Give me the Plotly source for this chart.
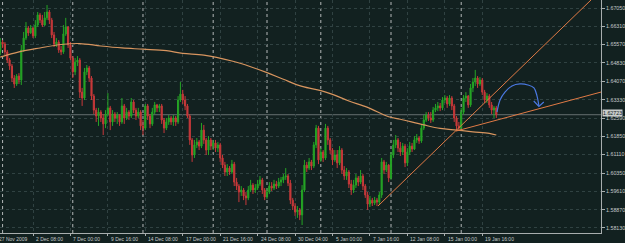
import plotly.graph_objects as go

# ---------------- data (H4 bars) ----------------
OPEN0 = 1.6527
CLOSES = [1.6567,1.6559,1.6527,1.6494,1.6470,1.6421,1.6397,1.6429,1.6413,1.6535,
1.6583,1.6624,1.6604,1.6624,1.6592,1.6636,1.6677,1.6656,1.6636,1.6665,
1.6689,1.6656,1.6596,1.6559,1.6567,1.6535,1.6527,1.6600,1.6628,1.6555,
1.6502,1.6446,1.6486,1.6494,1.6364,1.6340,1.6446,1.6462,1.6421,1.6348,
1.6291,1.6267,1.6283,1.6259,1.6235,1.6275,1.6300,1.6243,1.6275,1.6259,
1.6271,1.6243,1.6308,1.6259,1.6283,1.6267,1.6324,1.6291,1.6267,1.6283,
1.6227,1.6218,1.6308,1.6267,1.6235,1.6283,1.6312,1.6300,1.6308,1.6251,
1.6218,1.6243,1.6259,1.6243,1.6259,1.6243,1.6332,1.6356,1.6332,1.6308,
1.6267,1.6170,1.6109,1.6150,1.6162,1.6145,1.6210,1.6170,1.6129,1.6170,
1.6145,1.6158,1.6137,1.6150,1.6097,1.6068,1.6040,1.6056,1.6040,1.6072,
1.5999,1.5983,1.5959,1.5967,1.5943,1.5935,1.5967,1.5987,1.5967,1.5975,
1.5991,1.6008,1.5967,1.5939,1.5959,1.5983,1.5975,1.5991,1.5983,1.5999,
1.6008,1.6020,1.6024,1.5995,1.5926,1.5902,1.5878,1.5886,1.5866,1.5967,
1.6068,1.6056,1.6081,1.6064,1.6150,1.6218,1.6089,1.6121,1.6097,1.6218,
1.6170,1.6129,1.6089,1.6109,1.6077,1.6129,1.6048,1.6024,1.6040,1.5991,
1.5967,1.5987,1.6016,1.5999,1.6024,1.5983,1.5947,1.5910,1.5926,1.5914,
1.5926,1.5918,1.5947,1.6081,1.6048,1.6068,1.6016,1.6109,1.6150,1.6170,
1.6137,1.6121,1.6145,1.6077,1.6121,1.6145,1.6133,1.6170,1.6178,1.6166,
1.6218,1.6251,1.6271,1.6259,1.6251,1.6291,1.6300,1.6308,1.6300,1.6332,
1.6340,1.6316,1.6340,1.6308,1.6259,1.6227,1.6218,1.6283,1.6340,1.6348,
1.6312,1.6381,1.6405,1.6421,1.6397,1.6413,1.6364,1.6332,1.6348,1.6312,
1.6291,1.6300,1.62723]
HIGHS = [1.6583,1.6575,1.6567,1.6535,1.6502,1.6478,1.6433,1.6437,1.6441,1.6555,
1.6608,1.6648,1.6632,1.6636,1.6628,1.6656,1.6689,1.6685,1.6677,1.6689,
1.6717,1.6697,1.6665,1.6608,1.6583,1.6575,1.6551,1.6636,1.6665,1.6632,
1.6567,1.6510,1.6502,1.6510,1.6502,1.6381,1.6462,1.6474,1.6470,1.6429,
1.6356,1.6300,1.6300,1.6291,1.6275,1.6291,1.6360,1.6308,1.6291,1.6283,
1.6283,1.6275,1.6340,1.6316,1.6300,1.6291,1.6340,1.6332,1.6300,1.6300,
1.6291,1.6251,1.6316,1.6316,1.6275,1.6300,1.6324,1.6316,1.6316,1.6316,
1.6259,1.6259,1.6271,1.6267,1.6271,1.6267,1.6348,1.6405,1.6373,1.6348,
1.6316,1.6275,1.6178,1.6170,1.6178,1.6170,1.6239,1.6231,1.6178,1.6186,
1.6178,1.6170,1.6170,1.6162,1.6158,1.6109,1.6081,1.6072,1.6064,1.6089,
1.6081,1.6016,1.5991,1.5983,1.5975,1.5959,1.5983,1.6008,1.5995,1.5991,
1.6008,1.6024,1.6016,1.5975,1.5975,1.5999,1.5999,1.6008,1.6004,1.6016,
1.6020,1.6032,1.6056,1.6032,1.6008,1.5935,1.5914,1.5902,1.5894,1.5987,
1.6089,1.6081,1.6097,1.6089,1.6162,1.6231,1.6227,1.6137,1.6129,1.6235,
1.6227,1.6178,1.6137,1.6129,1.6129,1.6145,1.6137,1.6064,1.6056,1.6048,
1.6008,1.6008,1.6032,1.6024,1.6048,1.6032,1.5991,1.5959,1.5943,1.5935,
1.5939,1.5935,1.5959,1.6097,1.6089,1.6081,1.6072,1.6121,1.6170,1.6190,
1.6178,1.6162,1.6158,1.6154,1.6137,1.6162,1.6158,1.6186,1.6194,1.6186,
1.6235,1.6271,1.6283,1.6283,1.6283,1.6304,1.6316,1.6324,1.6320,1.6344,
1.6352,1.6348,1.6352,1.6348,1.6316,1.6267,1.6243,1.6300,1.6352,1.6364,
1.6352,1.6397,1.6421,1.6454,1.6429,1.6425,1.6421,1.6373,1.6360,1.6356,
1.6324,1.6308,1.6308]
LOWS = [1.6514,1.6543,1.6514,1.6482,1.6454,1.6405,1.6381,1.6389,1.6397,1.6393,
1.6527,1.6575,1.6592,1.6600,1.6583,1.6583,1.6628,1.6644,1.6628,1.6632,
1.6656,1.6640,1.6583,1.6547,1.6547,1.6523,1.6514,1.6519,1.6592,1.6543,
1.6494,1.6421,1.6433,1.6470,1.6340,1.6308,1.6332,1.6433,1.6405,1.6332,
1.6275,1.6243,1.6227,1.6243,1.6190,1.6218,1.6267,1.6210,1.6227,1.6243,
1.6235,1.6227,1.6235,1.6235,1.6251,1.6251,1.6259,1.6279,1.6251,1.6259,
1.6210,1.6190,1.6210,1.6251,1.6218,1.6227,1.6275,1.6283,1.6283,1.6235,
1.6198,1.6210,1.6231,1.6231,1.6227,1.6227,1.6235,1.6324,1.6316,1.6291,
1.6259,1.6150,1.6081,1.6097,1.6137,1.6129,1.6137,1.6154,1.6109,1.6109,
1.6129,1.6129,1.6121,1.6121,1.6081,1.6056,1.6024,1.6024,1.6028,1.6032,
1.5983,1.5967,1.5918,1.5943,1.5926,1.5906,1.5926,1.5959,1.5951,1.5955,
1.5967,1.5983,1.5951,1.5926,1.5931,1.5951,1.5963,1.5967,1.5971,1.5975,
1.5983,1.5995,1.6008,1.5983,1.5910,1.5886,1.5862,1.5854,1.5845,1.5825,
1.5959,1.6040,1.6048,1.6048,1.6056,1.6137,1.6072,1.6081,1.6081,1.6089,
1.6150,1.6113,1.6068,1.6081,1.6056,1.6068,1.6032,1.6008,1.6008,1.5975,
1.5947,1.5955,1.5975,1.5983,1.5991,1.5967,1.5935,1.5886,1.5898,1.5902,
1.5906,1.5902,1.5906,1.5935,1.6032,1.6040,1.5999,1.6008,1.6097,1.6137,
1.6121,1.6105,1.6109,1.6060,1.6064,1.6109,1.6121,1.6129,1.6158,1.6154,
1.6158,1.6210,1.6243,1.6247,1.6239,1.6243,1.6283,1.6287,1.6287,1.6291,
1.6320,1.6300,1.6308,1.6291,1.6243,1.6210,1.6206,1.6210,1.6275,1.6324,
1.6300,1.6304,1.6364,1.6389,1.6381,1.6389,1.6352,1.6320,1.6320,1.6300,
1.6275,1.6259,1.6259]
BARS = list(range(1, len(CLOSES) + 1))
OPENS = [OPEN0] + CLOSES[:-1]

# long moving average (sampled along its path)
MA_BARS = [1, 9, 18, 27, 35, 44, 53, 62, 72, 79, 88, 100, 108, 115, 122, 130,
           138, 143, 150, 158, 167, 172, 182, 189, 196, 203, 210, 213]
MA_VALS = [1.6506, 1.6527, 1.6543, 1.6557, 1.6561, 1.6551, 1.6543, 1.6538, 1.6532,
           1.6521, 1.6514, 1.6490, 1.6467, 1.6443, 1.6416, 1.6387, 1.6370, 1.6355,
           1.6328, 1.6302, 1.6264, 1.6254, 1.6231, 1.6217, 1.6210, 1.6203, 1.6197, 1.6190]

# trend lines drawn on the chart (start, far point)
TREND1_BARS = [162.4, 253.5]
TREND1_VALS = [1.5902, 1.6738]
TREND2_BARS = [195.8, 260.0]
TREND2_VALS = [1.6206, 1.6370]

# hand-drawn blue arrow
ARROW_BARS = [213.3, 214.6, 216.7, 219.7, 223.1, 226.5, 229.1, 230.4, 231.2]
ARROW_VALS = [1.6283, 1.6332, 1.6364, 1.6389, 1.6397, 1.6393, 1.6381, 1.6348, 1.6308]
HEAD_BARS = [229.0, 231.2, 233.3]
HEAD_VALS = [1.6328, 1.6306, 1.6324]

BID = 1.62723

TICK_BARS = [-1, 15, 31, 47, 63, 79, 95, 111, 127, 143, 159, 175, 191, 207]
TICK_LABELS = ["27 Nov 2009", "2 Dec 08:00", "7 Dec 00:00", "9 Dec 16:00", "14 Dec 08:00",
               "17 Dec 00:00", "21 Dec 16:00", "24 Dec 08:00", "30 Dec 04:00", "5 Jan 00:00",
               "7 Jan 16:00", "12 Jan 08:00", "15 Jan 00:00", "19 Jan 16:00"]
SEP_BARS = [2, 32, 62, 92, 115, 138, 168, 198]

Y_TICKS = [1.67050, 1.66310, 1.65570, 1.64830, 1.64070, 1.63330, 1.62590,
           1.61850, 1.61110, 1.60350, 1.59610, 1.58870, 1.58130]
Y_LABELS = ["%.5f" % v for v in Y_TICKS]

# ---------------- style ----------------
BG = "#122120"
GRID = "#304242"
AX = "#a8aeae"
TXT = "#c4c8c8"
GREEN = "#25a425"
RED = "#c8393a"
MA_COL = "#d8955f"
TL_COL = "#e07a45"
BLUE = "#4a78e0"
FONT = "Liberation Sans"

fig = go.Figure()
fig.add_trace(go.Candlestick(
    x=BARS, open=OPENS, high=HIGHS, low=LOWS, close=CLOSES,
    increasing=dict(line=dict(color=GREEN, width=1), fillcolor=GREEN),
    decreasing=dict(line=dict(color=RED, width=1), fillcolor=RED),
    whiskerwidth=0, hoverinfo="skip"))
fig.add_trace(go.Scatter(x=MA_BARS, y=MA_VALS, mode="lines",
                         line=dict(color=MA_COL, width=1.2, shape="spline"), hoverinfo="skip"))
fig.add_trace(go.Scatter(x=TREND1_BARS, y=TREND1_VALS, mode="lines",
                         line=dict(color=TL_COL, width=1), hoverinfo="skip"))
fig.add_trace(go.Scatter(x=TREND2_BARS, y=TREND2_VALS, mode="lines",
                         line=dict(color=TL_COL, width=1), hoverinfo="skip"))
fig.add_trace(go.Scatter(x=ARROW_BARS, y=ARROW_VALS, mode="lines",
                         line=dict(color=BLUE, width=1.2, shape="spline"), hoverinfo="skip"))
fig.add_trace(go.Scatter(x=HEAD_BARS, y=HEAD_VALS, mode="lines",
                         line=dict(color=BLUE, width=1.2), hoverinfo="skip"))

shapes = []
for b in SEP_BARS:
    shapes.append(dict(type="line", xref="x", yref="paper", x0=b, x1=b, y0=0, y1=1,
                       line=dict(color="#b4b8b8", width=1, dash="dot"), layer="between"))
shapes.append(dict(type="line", xref="paper", yref="y", x0=0, x1=1, y0=BID, y1=BID,
                   line=dict(color="#667070", width=1), layer="between"))

annotations = []
for b, lab in zip(TICK_BARS, TICK_LABELS):
    if b < 1:
        # first label sits at the very left edge of the plot
        annotations.append(dict(x=0, y=0, xref="paper", yref="paper", text=lab, showarrow=False,
                                xanchor="left", yanchor="top", xshift=-3, yshift=-1,
                                font=dict(family=FONT, size=5, color=TXT)))
    else:
        annotations.append(dict(x=b, y=0, xref="x", yref="paper", text=lab, showarrow=False,
                                xanchor="left", yanchor="top", xshift=1, yshift=-1,
                                font=dict(family=FONT, size=5, color=TXT)))
annotations.append(dict(x=1, y=BID, xref="paper", yref="y", text="1.62723", showarrow=False,
                        xanchor="left", yanchor="middle", xshift=1, yshift=2,
                        bgcolor="#c8cccc", borderpad=0,
                        font=dict(family=FONT, size=5.3, color="#101818")))

fig.update_layout(
    width=625, height=243, margin=dict(l=0, r=24, t=0, b=10),
    paper_bgcolor=BG, plot_bgcolor=BG, showlegend=False,
    shapes=shapes, annotations=annotations,
    xaxis=dict(range=[0.897, 257.74], rangeslider=dict(visible=False),
               tickvals=TICK_BARS, showticklabels=False, ticks="outside", ticklen=2,
               tickcolor=AX, showgrid=True, gridcolor=GRID, griddash="3px,3px",
               gridwidth=1, showline=True, linecolor=AX, linewidth=1, zeroline=False),
    yaxis=dict(range=[1.57927, 1.67375], side="right", tickvals=Y_TICKS, ticktext=Y_LABELS,
               ticks="outside", ticklen=3, tickcolor=AX,
               tickfont=dict(family=FONT, size=5.3, color=TXT),
               showgrid=True, gridcolor=GRID, griddash="3px,3px", gridwidth=1,
               showline=True, linecolor=AX, linewidth=1, zeroline=False),
)
fig.write_html("out.html")
